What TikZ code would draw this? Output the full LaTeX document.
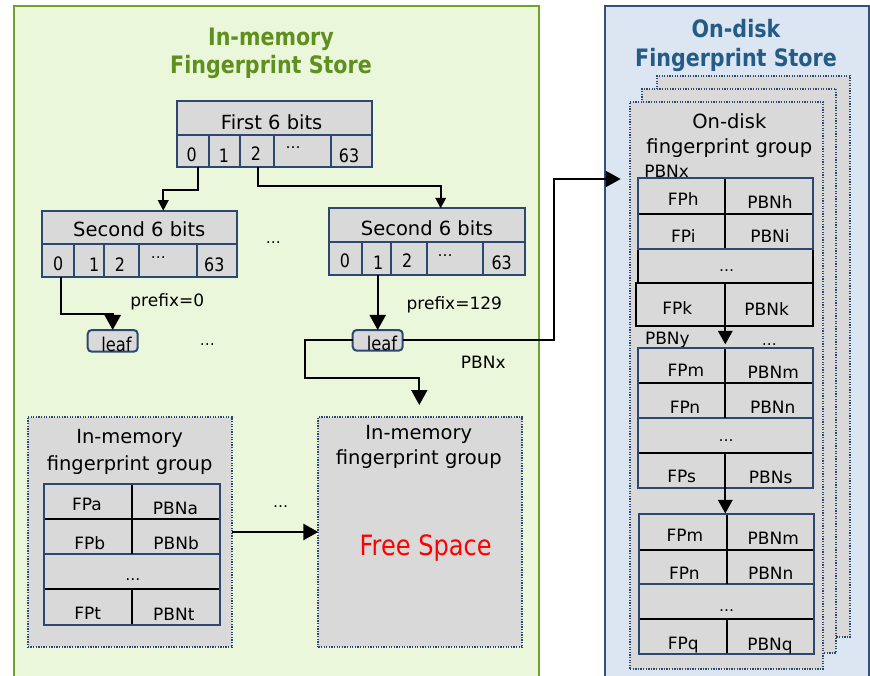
\documentclass[tikz,border=0pt]{standalone}
\usepackage{fontspec}
\setmainfont{DejaVu Sans}
\newfontfamily\narrowfont{DejaVu Sans}[FakeStretch=0.86]
\usetikzlibrary{arrows.meta,fit}

\definecolor{memfill}{RGB}{235,247,219}
\definecolor{memline}{RGB}{112,163,44}
\definecolor{memtitle}{RGB}{94,144,30}
\definecolor{diskfill}{RGB}{220,230,242}
\definecolor{diskline}{RGB}{52,80,125}
\definecolor{disktitle}{RGB}{36,92,135}
\definecolor{cellfill}{RGB}{217,217,217}
\definecolor{cellline}{RGB}{44,72,112}

\tikzset{
  every node/.style={inner sep=0pt, outer sep=0pt},
  region/.style={line width=2pt},
  cellbox/.style={fill=cellfill, draw=cellline, line width=2pt},
  leafbox/.style={cellbox, rounded corners=4pt},
  groupbox/.style={fill=cellfill, draw=cellline, line width=1.8pt, dash pattern=on 1.3pt off 1.3pt},
  tabfill/.style={fill=cellfill},
  tabrule/.style={draw=black, line width=2pt},
  tabedge/.style={draw=cellline, line width=2pt},
  storetitle/.style={anchor=base, font=\narrowfont\bfseries\fontsize{24}{28}\selectfont},
  head/.style={anchor=base, font=\fontsize{19.5}{23}\selectfont},
  lbl/.style={anchor=base, font=\fontsize{17}{20}\selectfont},
  leaftext/.style={anchor=base, font=\narrowfont\fontsize{19}{22}\selectfont},
  num/.style={anchor=base, font=\narrowfont\fontsize{18.5}{21}\selectfont},
  dots/.style={anchor=base, font=\fontsize{15}{18}\selectfont},
  link/.style={line width=2pt, -{Triangle[length=15pt,width=16pt]}},
  smalllink/.style={line width=2pt, -{Triangle[length=10.5pt,width=10.5pt]}},
  tablink/.style={line width=2pt, -{Triangle[length=13.5pt,width=14.5pt]}},
}

\begin{document}
\begin{tikzpicture}[x=1pt,y=-1pt]
\useasboundingbox (0,0) rectangle (870,676);

% ---------- the two stores ----------
\node[region, draw=memline, fill=memfill, fit={(14,5.7) (539.3,690)}] (mem) {};
\node[region, draw=diskline, fill=diskfill, fit={(605.3,5.7) (869,690)}] (disk) {};

\node[storetitle, text=memtitle] (memtA) at (271,45.7) {In-memory};
\node[storetitle, text=memtitle] (memtB) at (271,74) {Fingerprint Store};
\node[storetitle, text=disktitle] (disktA) at (736,37.3) {On-disk};
\node[storetitle, text=disktitle] (disktB) at (736,66.7) {Fingerprint Store};

% ---------- first level of the prefix tree ----------
\node[cellbox, fit={(176.7,101) (371.7,135)}] (first) {};
\node[cellbox, fit={(176.7,135) (209,167)}] (f0) {};
\node[cellbox, fit={(209,135) (240,167)}] (f1) {};
\node[cellbox, fit={(240,135) (274,167)}] (f2) {};
\node[cellbox, fit={(274,135) (331,167)}] (fdots) {};
\node[cellbox, fit={(331,135) (371.7,167)}] (f63) {};
\node[head] (firstT) at (271.7,130) {First 6 bits};
\node[num] (f0T) at (191.7,162) {0};
\node[num] (f1T) at (224,163) {1};
\node[num] (f2T) at (256,160.5) {2};
\node[dots] (fdotsT) at (293,149) {…};
\node[num] (f63T) at (349,163) {63};

% ---------- second level, left ----------
\node[cellbox, fit={(42,210.7) (237.3,244)}] (sl) {};
\node[cellbox, fit={(42,244) (74.3,277.3)}] (s0) {};
\node[cellbox, fit={(74.3,244) (104,277.3)}] (s1) {};
\node[cellbox, fit={(104,244) (139,277.3)}] (s2) {};
\node[cellbox, fit={(139,244) (196.7,277.3)}] (sdots) {};
\node[cellbox, fit={(196.7,244) (237.3,277.3)}] (s63) {};
\node[head] (slT) at (139.3,236.7) {Second 6 bits};
\node[num] (s0T) at (58.3,270.5) {0};
\node[num] (s1T) at (94.3,272) {1};
\node[num] (s2T) at (120,272) {2};
\node[dots] (sdotsT) at (158.3,258.5) {…};
\node[num] (s63T) at (214.3,272) {63};

% ---------- second level, right ----------
\node[cellbox, fit={(329.3,208.3) (525,242.3)}] (sr) {};
\node[cellbox, fit={(329.3,242.3) (361.7,275)}] (r0) {};
\node[cellbox, fit={(361.7,242.3) (390.7,275)}] (r1) {};
\node[cellbox, fit={(390.7,242.3) (426.7,275)}] (r2) {};
\node[cellbox, fit={(426.7,242.3) (483.3,275)}] (rdots) {};
\node[cellbox, fit={(483.3,242.3) (525,275)}] (r63) {};
\node[head] (srT) at (427,235.7) {Second 6 bits};
\node[num] (r0T) at (345,267.5) {0};
\node[num] (r1T) at (378.3,269.5) {1};
\node[num] (r2T) at (407.3,267.5) {2};
\node[dots] (rdotsT) at (445,256.5) {…};
\node[num] (r63T) at (501.7,269.5) {63};

\node[dots] (levelDots) at (273.3,243.3) {…};

% ---------- leaves ----------
\node[leafbox, fit={(87.7,330) (137.7,351.7)}] (leafl) {};
\node[leafbox, fit={(352.7,330) (402.7,350.7)}] (leafr) {};
\node[leaftext] (leaflT) at (116.5,351.5) {leaf};
\node[leaftext] (leafrT) at (382,350.5) {leaf};
\node[lbl] (pfx0) at (167.3,306) {prefix=0};
\node[lbl] (pfx129) at (454.3,309.3) {prefix=129};
\node[lbl] (pbnxMem) at (483.3,368.3) {PBNx};
\node[dots] (leafDots) at (207.3,345) {…};

% ---------- in-memory fingerprint groups ----------
\node[groupbox, fit={(27.8,416.7) (231.7,647.3)}] (memgrp) {};
\node[groupbox, fit={(318.3,416.7) (522.3,647.3)}] (free) {};
\node[head] (memgrpA) at (129.6,443.3) {In-memory};
\node[head] (memgrpB) at (129.6,470) {fingerprint group};
\node[head] (freeA) at (418.8,439) {In-memory};
\node[head] (freeB) at (418.8,464) {fingerprint group};
\node[anchor=base, text=red, font=\narrowfont\fontsize{28}{32}\selectfont] (freeT) at (425.7,555) {Free Space};
\node[dots] (grpDots) at (280.7,507.7) {…};

% table inside the filled group
\node[tabfill, fit={(44,484.3) (220,625)}] (ltab) {};
\draw[tabrule] (ltab.west |- 0,519.3) -- (ltab.east |- 0,519.3);
\draw[tabedge] (ltab.west |- 0,554) -- (ltab.east |- 0,554);
\draw[tabrule] (ltab.west |- 0,589.3) -- (ltab.east |- 0,589.3);
\draw[tabrule] (132,484.3) -- (132,554);
\draw[tabrule] (132,589.3) -- (132,625);
\draw[tabedge] (ltab.north west) rectangle (ltab.south east);
\node[lbl] (fpa) at (86.9,510.7) {FPa};
\node[lbl] (pbna) at (175.5,514) {PBNa};
\node[lbl] (fpb) at (89.7,549) {FPb};
\node[lbl] (pbnb) at (176.2,549) {PBNb};
\node[dots] (ltabDots) at (132.8,580.3) {…};
\node[lbl] (fpt) at (87.6,619.3) {FPt};
\node[lbl] (pbnt) at (173.8,620) {PBNt};

% ---------- on-disk fingerprint groups (stacked) ----------
\node[groupbox, fit={(657,76) (850,637)}] (grp3) {};
\node[groupbox, fit={(642,89) (836,653)}] (grp2) {};
\node[groupbox, fit={(630,102) (823,669)}] (grp1) {};
\node[head] (grp1A) at (729.3,128.3) {On-disk};
\node[head] (grp1B) at (729.3,153.3) {fingerprint group};
\node[lbl, anchor=base west] (pbnxDisk) at (644.3,178) {PBNx};
\node[lbl, anchor=base west] (pbnyDisk) at (645,344) {PBNy};
\node[dots] (pbnyDots) at (769.3,345) {…};

\coordinate (col1) at (725.3,0);
\coordinate (col3) at (726.7,0);

% first block
\node[tabfill, draw=black, line width=2pt, fit={(637.7,249.3) (813.3,283)}] (t1dots) {};
\node[tabfill, draw=black, line width=2pt, fit={(636,283) (812.7,325.7)}] (t1k) {};
\node[tabfill, fit={(637.7,178.3) (813.3,249.3)}] (t1) {};
\draw[tabrule] (t1.west |- 0,214) -- (t1.east |- 0,214);
\draw[tabrule] (col1 |- t1.north) -- (col1 |- t1.south);
\draw[tabrule] (col1 |- t1k.north) -- (col1 |- t1k.south);
\draw[tabedge] (t1.north west) rectangle (t1.south east);
\node[lbl] (fph) at (683.3,205.7) {FPh};
\node[lbl] (pbnh) at (770,209) {PBNh};
\node[lbl] (fpi) at (683.3,242.7) {FPi};
\node[lbl] (pbni) at (770,242.7) {PBNi};
\node[dots] (t1DotsT) at (726.7,272) {…};
\node[lbl] (fpk) at (677.3,315) {FPk};
\node[lbl] (pbnk) at (766.7,315.7) {PBNk};

% second block
\node[tabfill, fit={(637.7,348.3) (813.3,488.3)}] (t2) {};
\draw[tabrule] (t2.west |- 0,383.3) -- (t2.east |- 0,383.3);
\draw[tabedge] (t2.west |- 0,418.3) -- (t2.east |- 0,418.3);
\draw[tabrule] (t2.west |- 0,453.3) -- (t2.east |- 0,453.3);
\draw[tabrule] (col1 |- t2.north) -- (col1 |- 0,418.3);
\draw[tabedge] (t2.north west) rectangle (t2.south east);
\node[lbl] (fpm2) at (686,376) {FPm};
\node[lbl] (pbnm2) at (773.3,378.3) {PBNm};
\node[lbl] (fpn2) at (685,413.3) {FPn};
\node[lbl] (pbnn2) at (772.7,413.3) {PBNn};
\node[dots] (t2DotsT) at (726,441) {…};
\node[lbl] (fps) at (681.7,482.3) {FPs};
\node[lbl] (pbns) at (770.7,483.3) {PBNs};

% third block
\node[tabfill, fit={(639,513.7) (814.3,654)}] (t3) {};
\draw[tabrule] (t3.west |- 0,550) -- (t3.east |- 0,550);
\draw[tabedge] (t3.west |- 0,584.3) -- (t3.east |- 0,584.3);
\draw[tabrule] (t3.west |- 0,618.7) -- (t3.east |- 0,618.7);
\draw[tabrule] (col3 |- t3.north) -- (col3 |- 0,584.3);
\draw[tabrule] (col3 |- 0,618.7) -- (col3 |- t3.south);
\draw[tabedge] (t3.north west) rectangle (t3.south east);
\node[lbl] (fpm3) at (685,541) {FPm};
\node[lbl] (pbnm3) at (773.3,544) {PBNm};
\node[lbl] (fpn3) at (684.3,579.3) {FPn};
\node[lbl] (pbnn3) at (770.7,579.3) {PBNn};
\node[dots] (t3DotsT) at (726.7,611) {…};
\node[lbl] (fpq) at (683.3,649) {FPq};
\node[lbl] (pbnq) at (770,650) {PBNq};

% ---------- connectors ----------
\draw[smalllink] ([xshift=5pt]f0.south) -- ++(0,23) -| ([xshift=23.6pt]sl.north);
\draw[smalllink] ([xshift=0.5pt]f2.south) -- ++(0,18.7) -| ([xshift=13.5pt]sr.north);
\draw[link] ([xshift=2.8pt]s0.south) -- ++(0,36.7) -| (leafl.north);
\draw[link] (leafr.north |- r1.south) -- (leafr.north);

\coordinate (diskin) at (620.7,179);
\draw[link] (leafr.east) -- ++(151.6,0) |- (diskin);
\draw[link] (leafr.west) -- ++(-47.7,0) -- ++(0,38) -| ([xshift=-1pt,yshift=11.7pt]free.north);
\draw[link, line width=2.7pt] (memgrp.east) -- (free.west);

\draw[tablink] (col1 |- t1k.north) -- ([yshift=4pt]t2.north -| col1);
\draw[tablink] (col1 |- 0,453.3) -- ([yshift=0.3pt]t3.north -| col1);
\end{tikzpicture}
\end{document}
